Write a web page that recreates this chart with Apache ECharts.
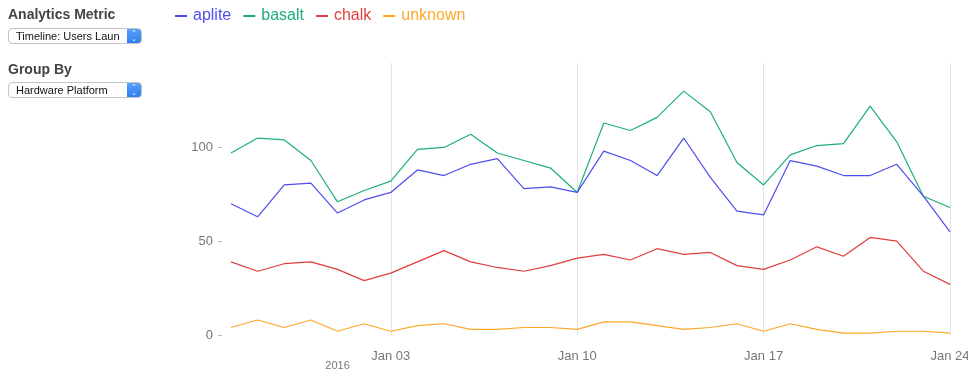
<!DOCTYPE html>
<html>
<head>
<meta charset="utf-8">
<script src="https://cdn.jsdelivr.net/npm/echarts@6/dist/echarts.min.js"></script>
<style>
  html, body { margin: 0; padding: 0; background: #fff; width: 976px; height: 376px; overflow: hidden; font-family: "Liberation Sans", Arial, sans-serif; }
  #chart { position: absolute; left: 0; top: 0; width: 968px; height: 376px; }
  .lbl { position: absolute; left: 8px; font-size: 14px; color: #444; font-weight: bold; -webkit-font-smoothing: antialiased; }
  .sel { position: absolute; left: 8px; width: 134px; height: 16px; border: 1px solid #c4c4c4; border-radius: 4px; background: #fff; box-sizing: border-box; overflow: hidden; font-size: 11px; color: #111; line-height: 14px; padding-left: 7px; white-space: nowrap; }
  .sel .btn { position: absolute; right: 0; top: 0; width: 14px; height: 100%; background: linear-gradient(#5aa0f8, #2f7ef2); color: #fff; font-size: 7px; line-height: 6px; text-align: center; padding-top: 1px; box-sizing: border-box; }
</style>
</head>
<body>
<div id="chart"></div>
<div class="lbl" style="top:6px;">Analytics Metric</div>
<div class="sel" style="top:28px;">Timeline: Users Laun<div class="btn">&#8963;<br>&#8964;</div></div>
<div class="lbl" style="top:61px;">Group By</div>
<div class="sel" style="top:82px;">Hardware Platform<div class="btn">&#8963;<br>&#8964;</div></div>
<script>
// ---- data ----
const dates = ['Dec 28','Dec 29','Dec 30','Dec 31','Jan 01','Jan 02','Jan 03','Jan 04','Jan 05','Jan 06','Jan 07','Jan 08','Jan 09','Jan 10',
               'Jan 11','Jan 12','Jan 13','Jan 14','Jan 15','Jan 16','Jan 17','Jan 18','Jan 19','Jan 20','Jan 21','Jan 22','Jan 23','Jan 24'];
const seriesNames = ['aplite', 'basalt', 'chalk', 'unknown'];
const aplite  = [70, 63, 80, 81, 65, 72, 76, 88, 85, 91, 94, 78, 79, 76, 98, 93, 85, 105, 84, 66, 64, 93, 90, 85, 85, 91, 74, 55];
const basalt  = [97, 105, 104, 93, 71, 77, 82, 99, 100, 107, 97, 93, 89, 76, 113, 109, 116, 130, 119, 92, 80, 96, 101, 102, 122, 103, 74, 68];
const chalk   = [39, 34, 38, 39, 35, 29, 33, 39, 45, 39, 36, 34, 37, 41, 43, 40, 46, 43, 44, 37, 35, 40, 47, 42, 52, 50, 34, 27];
const unknown = [4, 8, 4, 8, 2, 6, 2, 5, 6, 3, 3, 4, 4, 3, 7, 7, 5, 3, 4, 6, 2, 6, 3, 1, 1, 2, 2, 1];
const xLabels = ['Jan 03', 'Jan 10', 'Jan 17', 'Jan 24'];
const yearLabel = { at: 'Jan 01', text: '2016' };
const yTicks = [0, 50, 100];
const colors = ['#4e4ef0', '#1daf78', '#e03e3e', '#ffa726'];

const values = [aplite, basalt, chalk, unknown];
const chart = echarts.init(document.getElementById('chart'), null, { renderer: 'canvas' });

chart.setOption({
  animation: false,
  color: colors,
  textStyle: { fontFamily: '"Liberation Sans", Arial, sans-serif' },
  legend: {
    left: 170, top: 3,
    itemWidth: 12, itemHeight: 2, itemGap: 12,
    icon: 'rect',
    textStyle: { fontSize: 16, padding: [0, 0, 0, 1] },
    data: seriesNames.map((n, i) => ({ name: n, textStyle: { color: colors[i] } })),
    selectedMode: false
  },
  grid: { left: 231, right: 18, top: 63, bottom: 41, outerBoundsMode: 'none', containLabel: false },
  xAxis: {
    type: 'category',
    data: dates,
    boundaryGap: false,
    axisLine: { show: false },
    axisTick: { show: false },
    axisLabel: {
      interval: (i, v) => xLabels.includes(v) || v === yearLabel.at,
      margin: 15,
      color: '#777',
      fontSize: 13,
      formatter: v => v === yearLabel.at ? '{yr|' + yearLabel.text + '}' : v,
      rich: { yr: { fontSize: 11, color: '#777', padding: [10, 0, 0, 0] } }
    },
    splitLine: {
      show: true,
      interval: (i, v) => xLabels.includes(v),
      lineStyle: { color: '#e2e2e2', width: 1 }
    }
  },
  yAxis: {
    type: 'value',
    min: 0, max: 145,
    offset: 9,
    axisLine: { show: false },
    axisTick: { show: true, length: 4, lineStyle: { color: '#bbb' }, customValues: yTicks },
    axisLabel: { color: '#777', fontSize: 13, margin: 9, customValues: yTicks },
    splitLine: { show: false }
  },
  series: seriesNames.map((n, i) => ({
    name: n,
    type: 'line',
    data: values[i],
    symbol: 'none',
    lineStyle: { width: 1.2 },
    z: 10 - i
  }))
});
</script>
</body>
</html>
